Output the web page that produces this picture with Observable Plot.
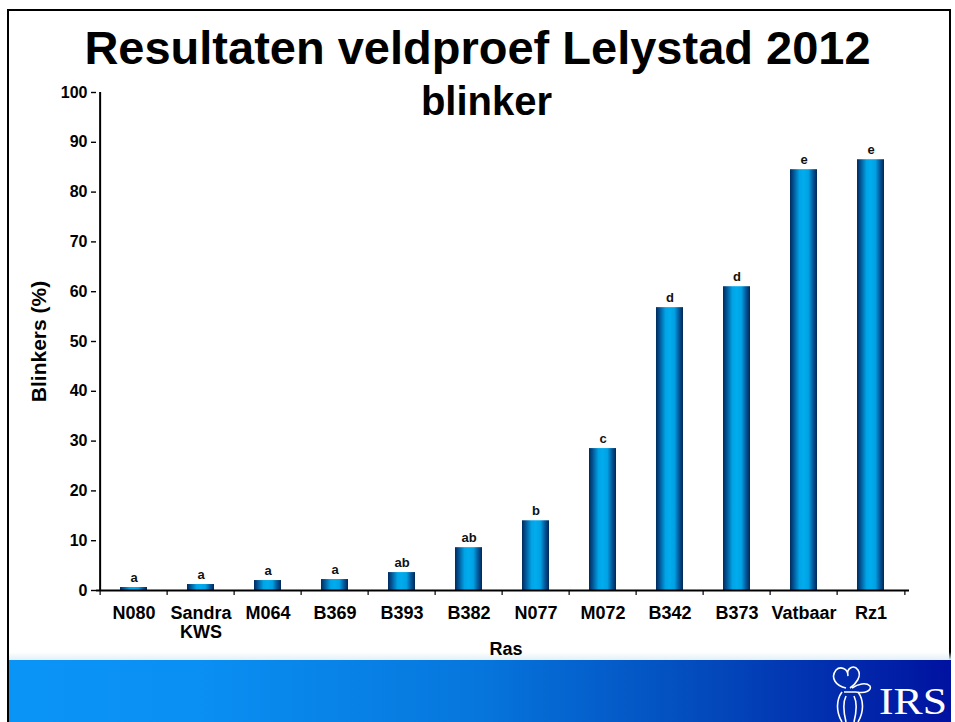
<!DOCTYPE html>
<html>
<head>
<meta charset="utf-8">
<script src="https://cdn.jsdelivr.net/npm/d3@7"></script>
<script src="https://cdn.jsdelivr.net/npm/@observablehq/plot@0.6"></script>
<style>
  html, body { margin: 0; padding: 0; background: #fff; }
  #slide { position: relative; width: 955px; height: 722px; overflow: hidden; background: #fff; font-family: "Liberation Sans", Arial, sans-serif; }
  #frame { position: absolute; left: 7px; top: 9px; width: 944px; height: 760px; border: 2px solid #000; box-sizing: border-box; }
  #chart { position: absolute; left: 0; top: 0; }
  #title { position: absolute; left: 0; width: 955px; top: 0; text-align: center; font-weight: bold; font-size: 47px; line-height: 1; color: #000; margin: 0; }
  #subtitle { position: absolute; left: 9px; width: 955px; text-align: center; font-weight: bold; font-size: 40px; line-height: 1; color: #000; margin: 0; }
  #band { position: absolute; left: 9px; top: 660px; width: 942px; height: 70px;
    background: linear-gradient(to right, #0a95f6 0%, #0a8ff2 20%, #0676dc 50%, #0348bb 75%, #0012a0 100%); }
  #strip { position: absolute; left: 9px; top: 652px; width: 942px; height: 8px;
    background: linear-gradient(to bottom, rgba(220,238,248,0) 0%, #e2f0f8 100%); }
  #logo { position: absolute; left: 826px; top: 662px; }
</style>
</head>
<body>
<div id="slide">
  <div id="frame"></div>
  <div id="strip"></div>
  <div id="band"></div>
  <div id="chart"></div>
  <div id="title">Resultaten veldproef Lelystad 2012</div>
  <div id="subtitle">blinker</div>
  <svg id="logo" width="125" height="60" viewBox="0 0 125 60">
    <g fill="none" stroke="#fff" stroke-width="1.6">
      <path d="M20 26 C 10 24, 4 16, 10 8 C 14 4, 22 6, 22 14 C 20 6, 28 2, 32 8 C 36 14, 30 22, 24 26"/>
      <path d="M26 26 C 32 22, 40 20, 44 24 C 46 28, 40 32, 30 30"/>
      <path d="M16 30 C 10 38, 10 50, 16 60 M 32 30 C 38 38, 38 50, 32 60"/>
      <path d="M18 30 L 30 30 M 20 34 C 16 42, 18 52, 20 60 M 28 34 C 32 42, 30 52, 28 60"/>
    </g>
    <text x="53" y="52" fill="#fff" font-family="'Liberation Serif','DejaVu Serif',serif" font-size="38" textLength="68" lengthAdjust="spacingAndGlyphs">IRS</text>
  </svg>
</div>
<script>
const categories = ["N080", "Sandra KWS", "M064", "B369", "B393", "B382", "N077", "M072", "B342", "B373", "Vatbaar", "Rz1"];
const tickLabels = ["N080", "Sandra\nKWS", "M064", "B369", "B393", "B382", "N077", "M072", "B342", "B373", "Vatbaar", "Rz1"];
const values = [0.6, 1.2, 2.0, 2.2, 3.6, 8.6, 14.0, 28.5, 56.8, 61.0, 84.5, 86.5];
const letters = ["a", "a", "a", "a", "ab", "ab", "b", "c", "d", "d", "e", "e"];
const yTicks = [0, 10, 20, 30, 40, 50, 60, 70, 80, 90, 100];
const yLabel = "Blinkers (%)";
const xLabel = "Ras";

const data = categories.map((c, i) => ({cat: c, label: tickLabels[i], value: values[i], letter: letters[i]}));

const W = 955, H = 660, mL = 96, mR = 46, mT = 92, mB = 70;
const step = (W - mL - mR) / categories.length;
const font = "'Liberation Sans', Arial, sans-serif";

const plot = Plot.plot({
  width: W,
  height: H,
  marginLeft: mL,
  marginRight: mR,
  marginTop: mT,
  marginBottom: mB,
  style: {background: "transparent", fontFamily: font, color: "#000", overflow: "visible"},
  x: {domain: categories, paddingInner: 0.59, paddingOuter: 0.295, axis: null},
  y: {domain: [0, 100], axis: null},
  marks: [
    Plot.barY(data, {x: "cat", y: "value", fill: "url(#barGrad)"}),
    Plot.text(data, {x: "cat", y: "value", text: "letter", dy: -6, lineAnchor: "bottom", fontSize: 13, fontWeight: "bold", fill: "#111"}),
    // y axis
    Plot.axisY({ticks: yTicks, tickSize: 5, tickPadding: 4, fontSize: 16, fontWeight: "bold", label: null, strokeWidth: 1.4, stroke: "#000", strokeOpacity: 1}),
    Plot.ruleX([categories[0]], {x: d => d, dx: -step / 2, y1: 0, y2: 100, stroke: "#000", strokeWidth: 2}),
    // x axis
    Plot.ruleY([0], {stroke: "#000", strokeWidth: 2.2}),
    Plot.ruleX(categories, {x: d => d, dx: -step / 2, y1: 0, y2: -1, stroke: "#000", strokeWidth: 1.2}),
    Plot.ruleX([categories[categories.length - 1]], {x: d => d, dx: step / 2, y1: 0, y2: -1, stroke: "#000", strokeWidth: 1.2}),
    Plot.text(data, {x: "cat", frameAnchor: "bottom", dy: 15, lineAnchor: "top", text: "label", fontSize: 18, fontWeight: "bold", lineHeight: 1.05}),
    // axis titles
    Plot.text([yLabel], {frameAnchor: "left", dx: -57, rotate: -90, textAnchor: "middle", fontSize: 21, fontWeight: "bold"}),
    Plot.text([xLabel], {frameAnchor: "bottom", dx: 3, dy: 64, textAnchor: "middle", lineAnchor: "bottom", fontSize: 18, fontWeight: "bold"})
  ]
});

const svg = d3.select(plot);
const defs = svg.insert("defs", ":first-child");
const g = defs.append("linearGradient").attr("id", "barGrad").attr("x1", "0").attr("x2", "1").attr("y1", "0").attr("y2", "0");
[[0, "#002a5c"], [0.12, "#034f8f"], [0.35, "#00a4e6"], [0.5, "#00aced"], [0.68, "#00a2e4"], [0.85, "#04589a"], [1, "#002656"]]
  .forEach(([o, c]) => g.append("stop").attr("offset", o).attr("stop-color", c));

document.getElementById("chart").appendChild(plot);

document.getElementById("title").style.top = (67 - 47 * 0.905) + "px";
document.getElementById("subtitle").style.top = (117 - 40 * 0.905) + "px";
</script>
</body>
</html>
